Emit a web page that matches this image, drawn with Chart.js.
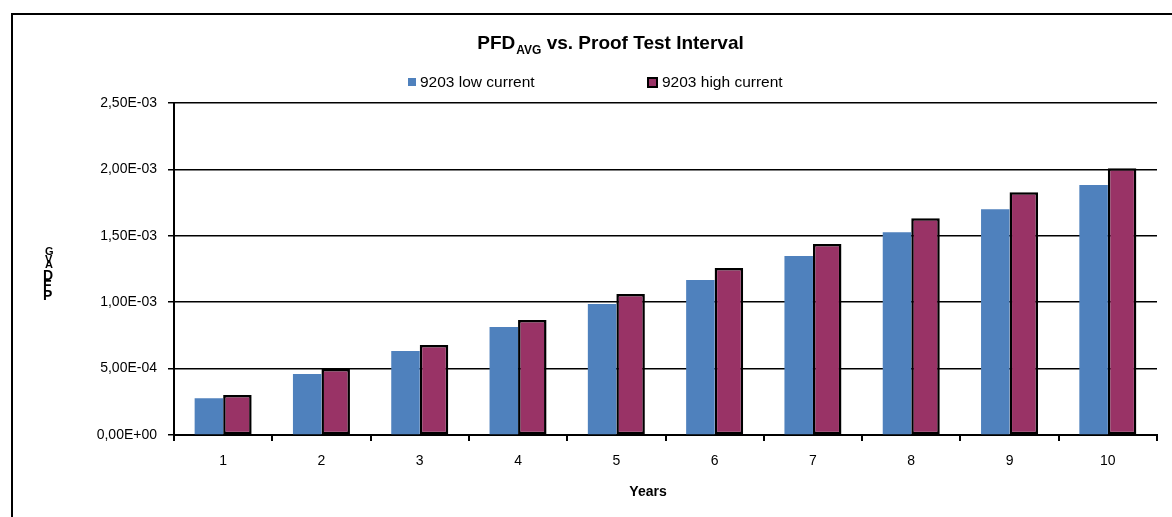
<!DOCTYPE html>
<html>
<head>
<meta charset="utf-8">
<script src="https://cdn.jsdelivr.net/npm/chart.js@4.4.1/dist/chart.umd.min.js"></script>
<style>
  html, body { margin: 0; padding: 0; background: #fff; }
  #wrap { width: 1172px; height: 517px; position: relative; }
</style>
</head>
<body>
<div id="wrap"><canvas id="pfdChart"></canvas></div>
<script>
// Proof test interval in years
const years = ['1', '2', '3', '4', '5', '6', '7', '8', '9', '10'];
// PFDavg values
const lowCurrent  = [0.000276, 0.000459, 0.000633, 0.000813, 0.000986, 0.001167, 0.001348, 0.001526, 0.001700, 0.001883];
const highCurrent = [0.000301, 0.000497, 0.000678, 0.000866, 0.001062, 0.001258, 0.001438, 0.001632, 0.001828, 0.002008];
const seriesNames = ['9203 low current', '9203 high current'];
const seriesColors = ['#4F81BD', '#993366'];

const FONT = "'Liberation Sans', Arial, sans-serif";

// 0.0015 -> "1,50E-03"
function sciLabel(v) {
    if (Math.abs(v) < 1e-12) return '0,00E+00';
    const parts = v.toExponential(2).split('e');
    const exp = parseInt(parts[1], 10);
    return parts[0].replace('.', ',') + 'E' + (exp < 0 ? '-' : '+') + String(Math.abs(exp)).padStart(2, '0');
}

// title, legend, odd stacked y title and frame, drawn on the canvas
const decorations = {
    id: 'decorations',
    afterDraw(chart) {
        const ctx = chart.ctx;
        ctx.save();

        // frame (left and top edges only are visible)
        ctx.strokeStyle = '#000';
        ctx.lineWidth = 2;
        ctx.beginPath();
        ctx.moveTo(12, 517);
        ctx.lineTo(12, 14);
        ctx.lineTo(1172, 14);
        ctx.stroke();

        // title with subscript
        ctx.fillStyle = '#000';
        ctx.textBaseline = 'alphabetic';
        ctx.textAlign = 'left';
        const big = 'bold 19px ' + FONT;
        const small = 'bold 12px ' + FONT;
        ctx.font = big;
        const w1 = ctx.measureText('PFD').width;
        const w3 = ctx.measureText(' vs. Proof Test Interval').width;
        ctx.font = small;
        const w2 = ctx.measureText('AVG').width;
        let x = 610 - (w1 + w2 + w3) / 2;
        ctx.font = big;
        ctx.fillText('PFD', x, 49);
        x += w1;
        ctx.font = small;
        ctx.fillText('AVG', x + 1, 54);
        x += w2 + 1;
        ctx.font = big;
        ctx.fillText(' vs. Proof Test Interval', x, 49);

        // legend
        ctx.font = '15.5px ' + FONT;
        ctx.textBaseline = 'middle';
        ctx.fillStyle = seriesColors[0];
        ctx.fillRect(408, 78, 8, 8);
        ctx.fillStyle = '#000';
        ctx.fillText(seriesNames[0], 420, 83);
        ctx.fillStyle = seriesColors[1];
        ctx.fillRect(648, 78, 9, 9);
        ctx.strokeStyle = '#000';
        ctx.lineWidth = 2;
        ctx.strokeRect(648, 78, 9, 9);
        ctx.fillStyle = '#000';
        ctx.fillText(seriesNames[1], 662, 83);

        // y title: letters stacked upright and overlapping, as in the original
        ctx.textAlign = 'left';
        ctx.textBaseline = 'alphabetic';
        ctx.font = 'bold 14px ' + FONT;
        ctx.fillText('P', 43, 300);
        ctx.fillText('F', 43, 290);
        ctx.fillText('D', 43, 280);
        ctx.font = 'bold 11px ' + FONT;
        ctx.fillText('A', 45, 268);
        ctx.fillText('V', 45, 263);
        ctx.fillText('G', 45, 255);

        // x title
        ctx.textAlign = 'center';
        ctx.font = 'bold 14px ' + FONT;
        ctx.fillText('Years', 648, 496);

        ctx.restore();
    }
};

const ctx = document.getElementById('pfdChart').getContext('2d');
const chart = new Chart(ctx, {
    type: 'bar',
    data: {
        labels: years,
        datasets: [
            {
                label: seriesNames[0],
                data: lowCurrent,
                backgroundColor: seriesColors[0],
                borderWidth: 0,
                categoryPercentage: 0.58,
                barPercentage: 1.0
            },
            {
                label: seriesNames[1],
                data: highCurrent,
                backgroundColor: seriesColors[1],
                borderColor: '#000',
                borderWidth: 2.5,
                borderSkipped: false,
                categoryPercentage: 0.58,
                barPercentage: 1.0
            }
        ]
    },
    options: {
        responsive: true,
        maintainAspectRatio: false,
        animation: false,
        layout: { padding: { top: 103, right: 15, left: 0, bottom: 0 } },
        plugins: {
            legend: { display: false },
            title: { display: false },
            tooltip: { enabled: false }
        },
        scales: {
            x: {
                offset: true,
                afterFit: (scale) => { scale.height = 82; },
                grid: {
                    offset: true,
                    drawOnChartArea: false,
                    drawTicks: true,
                    tickLength: 6,
                    color: '#000',
                    lineWidth: 2
                },
                border: { color: '#000', width: 2 },
                ticks: {
                    color: '#000',
                    padding: 12,
                    font: { family: FONT, size: 14 }
                }
            },
            y: {
                min: 0,
                max: 0.0025,
                afterFit: (scale) => { scale.width = 174; },
                grid: {
                    color: '#000',
                    lineWidth: 1.5,
                    drawTicks: true,
                    tickLength: 6
                },
                border: { color: '#000', width: 2 },
                ticks: {
                    stepSize: 0.0005,
                    color: '#000',
                    padding: 11,
                    font: { family: FONT, size: 14 },
                    callback: (v) => sciLabel(v)
                }
            }
        }
    },
    plugins: [decorations]
});
</script>
</body>
</html>
